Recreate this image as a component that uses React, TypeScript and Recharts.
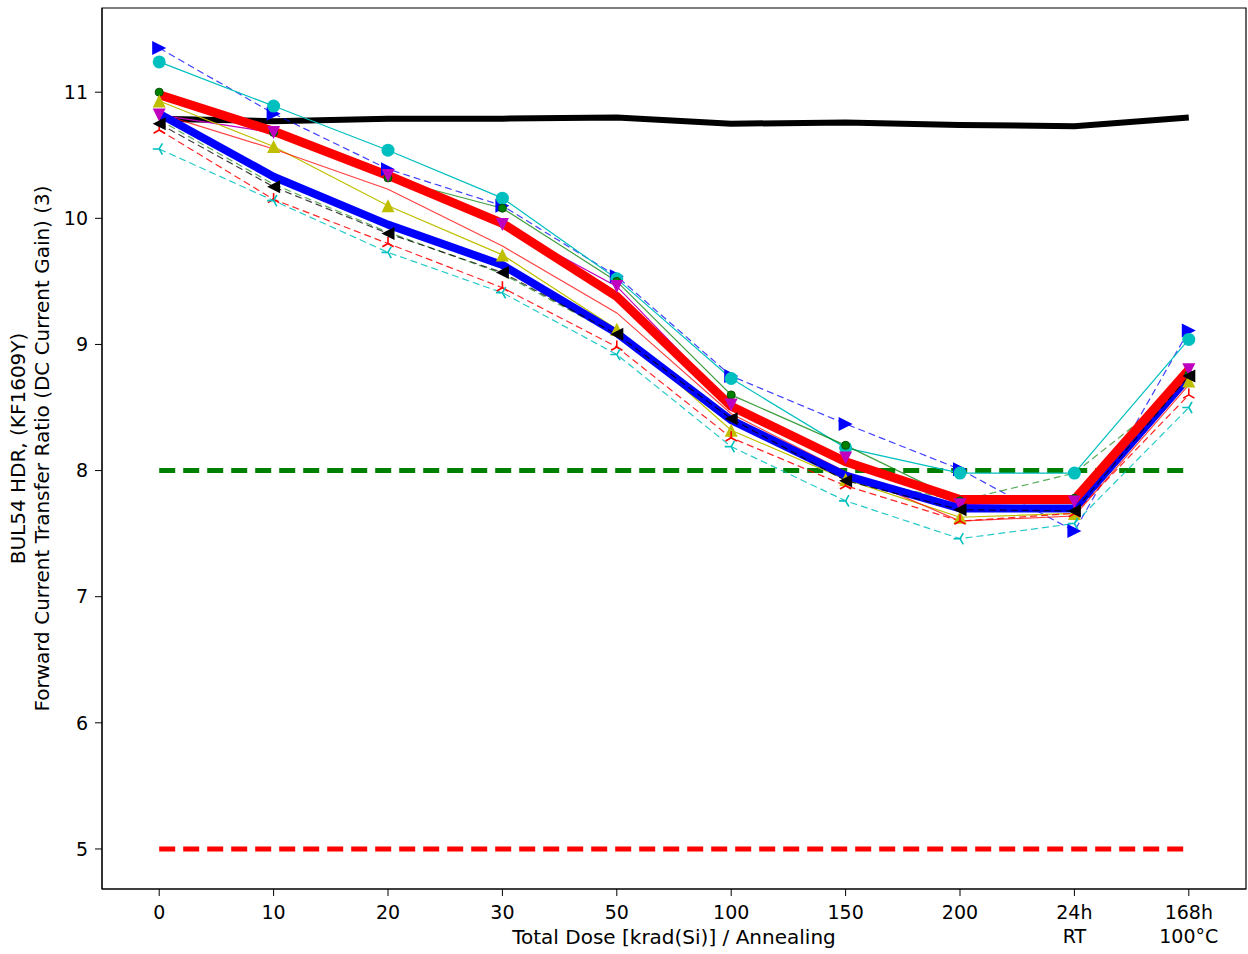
import React from 'react';
import { ComposedChart, Line, XAxis, YAxis, ReferenceArea } from 'recharts';

const categories = ['0', '10', '20', '30', '50', '100', '150', '200', '24h\nRT', '168h\n100°C'];
const yTicks = [5, 6, 7, 8, 9, 10, 11];

// reference device (thick black)
const refDevice = [10.79, 10.77, 10.79, 10.79, 10.8, 10.75, 10.76, 10.74, 10.73, 10.8];
// individual parts
const blueTri = [11.35, 10.83, 10.39, 10.1, 9.54, 8.75, 8.37, 8.01, 7.52, 9.11];
const cyanCircle = [11.24, 10.89, 10.54, 10.16, 9.52, 8.73, 8.18, 7.98, 7.98, 9.04];
const greenDot = [11.0, 10.68, 10.32, 10.08, 9.5, 8.6, 8.2, 7.76, 7.78, 8.76];
const magentaTri = [10.82, 10.68, 10.34, 9.95, 9.46, 8.52, 8.1, 7.73, 7.75, 8.8];
const yellowTri = [10.93, 10.57, 10.1, 9.71, 9.12, 8.32, 7.93, 7.63, 7.66, 8.71];
const redThin = [10.83, 10.55, 10.23, 9.78, 9.25, 8.45, 7.99, 7.6, 7.64, 8.68];
const greenDash = [10.78, 10.27, 9.89, 9.56, 9.07, 8.42, 7.95, 7.76, 7.98, 8.7];
const redDashTri = [10.7, 10.15, 9.8, 9.45, 8.98, 8.26, 7.88, 7.6, 7.66, 8.6];
const cyanDashTri = [10.55, 10.14, 9.73, 9.41, 8.92, 8.19, 7.76, 7.46, 7.58, 8.5];
const blackTri = [10.75, 10.25, 9.88, 9.57, 9.08, 8.41, 7.92, 7.69, 7.68, 8.75];
// averages
const redMean = [10.98, 10.69, 10.34, 9.96, 9.38, 8.51, 8.07, 7.77, 7.77, 8.8];
const blueMean = [10.83, 10.33, 9.95, 9.63, 9.09, 8.4, 7.96, 7.7, 7.7, 8.74];
// spec limits
const upperLimit = [8, 8, 8, 8, 8, 8, 8, 8, 8, 8];
const lowerLimit = [5, 5, 5, 5, 5, 5, 5, 5, 5, 5];

const data = categories.map((c, i) => ({
  x: i,
  refDevice: refDevice[i],
  blueTri: blueTri[i],
  cyanCircle: cyanCircle[i],
  greenDot: greenDot[i],
  magentaTri: magentaTri[i],
  yellowTri: yellowTri[i],
  redThin: redThin[i],
  greenDash: greenDash[i],
  redDashTri: redDashTri[i],
  cyanDashTri: cyanDashTri[i],
  blackTri: blackTri[i],
  redMean: redMean[i],
  blueMean: blueMean[i],
  upperLimit: upperLimit[i],
  lowerLimit: lowerLimit[i],
}));

const FONT = '"DejaVu Sans", sans-serif';

type Shape = 'right' | 'left' | 'up' | 'down' | 'circle' | 'dot' | 'triUp' | 'triLeft' | 'none';

const Marker = ({ cx, cy, shape, color, size }: any) => {
  const h = size / 2;
  if (cx == null || cy == null) return null;
  switch (shape) {
    case 'circle':
      return <circle cx={cx} cy={cy} r={h} fill={color} />;
    case 'dot':
      return <circle cx={cx} cy={cy} r={h} fill={color} stroke="#005000" strokeWidth={1} />;
    case 'right':
      return <polygon points={`${cx + h},${cy} ${cx - h},${cy - h} ${cx - h},${cy + h}`} fill={color} />;
    case 'left':
      return <polygon points={`${cx - h},${cy} ${cx + h},${cy - h} ${cx + h},${cy + h}`} fill={color} />;
    case 'up':
      return <polygon points={`${cx},${cy - h} ${cx - h},${cy + h} ${cx + h},${cy + h}`} fill={color} />;
    case 'down':
      return <polygon points={`${cx},${cy + h} ${cx - h},${cy - h} ${cx + h},${cy - h}`} fill={color} />;
    case 'triUp':
      return (
        <path
          d={`M${cx},${cy} L${cx},${cy - h} M${cx},${cy} L${cx - h * 0.87},${cy + h / 2} M${cx},${cy} L${cx + h * 0.87},${cy + h / 2}`}
          stroke={color}
          strokeWidth={1.6}
          fill="none"
        />
      );
    case 'triLeft':
      return (
        <path
          d={`M${cx},${cy} L${cx - h},${cy} M${cx},${cy} L${cx + h / 2},${cy - h * 0.87} M${cx},${cy} L${cx + h / 2},${cy + h * 0.87}`}
          stroke={color}
          strokeWidth={1.6}
          fill="none"
        />
      );
    default:
      return null;
  }
};

const dotFor = (name: string, shape: Shape, color: string, size: number) =>
  shape === 'none'
    ? false
    : (p: any) => <Marker key={`${name}-${p.index}`} cx={p.cx} cy={p.cy} shape={shape} color={color} size={size} />;

const XTick = ({ x, y, payload }: any) => {
  const lines = categories[payload.value].split('\n');
  return (
    <g>
      {lines.map((l, i) => (
        <text key={i} x={x} y={y + 21 + i * 24} textAnchor="middle" fontSize={19} fontFamily={FONT} fill="#000">
          {l}
        </text>
      ))}
    </g>
  );
};

const XLabel = ({ viewBox }: any) => (
  <text x={viewBox.x + viewBox.width / 2} y={viewBox.y + 55} textAnchor="middle" fontSize={20} fontFamily={FONT} fill="#000">
    Total Dose [krad(Si)] / Annealing
  </text>
);

const YLabel = ({ viewBox }: any) => {
  const cy = viewBox.y + viewBox.height / 2;
  return (
    <g>
      <text x={25} y={cy} transform={`rotate(-90, 25, ${cy})`} textAnchor="middle" fontSize={20} fontFamily={FONT} fill="#000">
        BUL54 HDR, (KF1609Y)
      </text>
      <text x={49} y={cy} transform={`rotate(-90, 49, ${cy})`} textAnchor="middle" fontSize={20} fontFamily={FONT} fill="#000">
        Forward Current Transfer Ratio (DC Current Gain) (3)
      </text>
    </g>
  );
};

const thin = [
  { key: 'blueTri', color: '#0000ff', dash: '7 4', shape: 'right' as Shape, size: 14, opacity: 0.75 },
  { key: 'cyanCircle', color: '#00bfbf', dash: undefined, shape: 'circle' as Shape, size: 13, opacity: 1 },
  { key: 'greenDot', color: '#008000', dash: undefined, shape: 'dot' as Shape, size: 8, opacity: 0.75 },
  { key: 'magentaTri', color: '#bf00bf', dash: undefined, shape: 'down' as Shape, size: 13, opacity: 1 },
  { key: 'yellowTri', color: '#bfbf00', dash: undefined, shape: 'up' as Shape, size: 13, opacity: 1 },
  { key: 'redThin', color: '#ff0000', dash: undefined, shape: 'none' as Shape, size: 0, opacity: 0.75 },
  { key: 'greenDash', color: '#008000', dash: '7 4', shape: 'none' as Shape, size: 0, opacity: 0.65 },
  { key: 'redDashTri', color: '#ff0000', dash: '7 4', shape: 'triUp' as Shape, size: 13, opacity: 0.85 },
  { key: 'cyanDashTri', color: '#00bfbf', dash: '7 4', shape: 'triLeft' as Shape, size: 13, opacity: 0.85 },
];

export default function App() {
  return (
    <div style={{ position: 'absolute', left: 0, top: 0, background: '#fff' }}>
      <ComposedChart width={1248} height={954} data={data} margin={{ top: 8, right: 2, bottom: 0, left: 0 }}>
        <XAxis
          dataKey="x"
          type="number"
          domain={[-0.5, 9.5]}
          ticks={categories.map((_, i) => i)}
          tick={<XTick />}
          tickSize={7}
          tickLine={{ stroke: '#000' }}
          axisLine={{ stroke: '#000' }}
          height={65}
          interval={0}
          label={<XLabel />}
        />
        <YAxis
          type="number"
          domain={[4.6825, 11.6675]}
          ticks={yTicks}
          width={102}
          tickSize={7}
          tickMargin={7}
          tickLine={{ stroke: '#000' }}
          axisLine={{ stroke: '#000' }}
          tick={{ fontSize: 19, fontFamily: FONT, fill: '#000' }}
          label={<YLabel />}
        />
        <ReferenceArea x1={-0.5} x2={9.5} y1={4.6825} y2={11.6675} fill="none" stroke="#000" strokeWidth={1.2} />
        <Line dataKey="upperLimit" stroke="#008000" strokeWidth={5} strokeDasharray="16 8" dot={false} activeDot={false} isAnimationActive={false} />
        <Line dataKey="lowerLimit" stroke="#ff0000" strokeWidth={5} strokeDasharray="16 8" dot={false} activeDot={false} isAnimationActive={false} />
        <Line dataKey="refDevice" stroke="#000" strokeWidth={6} dot={false} activeDot={false} isAnimationActive={false} />
        {thin.map((s) => (
          <Line
            key={s.key}
            dataKey={s.key}
            stroke={s.color}
            strokeOpacity={s.opacity}
            strokeWidth={1.2}
            strokeDasharray={s.dash}
            dot={dotFor(s.key, s.shape, s.color, s.size)}
            activeDot={false}
            isAnimationActive={false}
          />
        ))}
        <Line dataKey="blueMean" stroke="#0000ff" strokeWidth={8} strokeLinejoin="round" dot={false} activeDot={false} isAnimationActive={false} />
        <Line dataKey="redMean" stroke="#ff0000" strokeWidth={9} strokeLinejoin="round" dot={false} activeDot={false} isAnimationActive={false} />
        <Line
          dataKey="blackTri"
          stroke="#000"
          strokeOpacity={0.75}
          strokeWidth={1.2}
          strokeDasharray="7 4"
          dot={dotFor('blackTri', 'left', '#000', 13)}
          activeDot={false}
          isAnimationActive={false}
        />
      </ComposedChart>
    </div>
  );
}
